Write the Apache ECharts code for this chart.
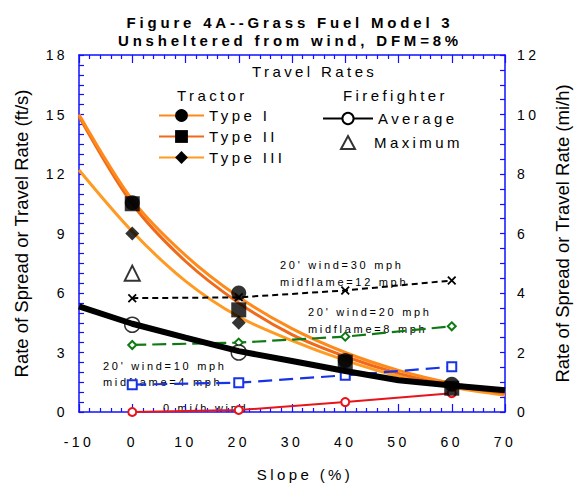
<!DOCTYPE html>
<html>
<head>
<meta charset="utf-8">
<script src="https://cdn.jsdelivr.net/npm/echarts@6/dist/echarts.min.js"></script>
<style>
  html, body { margin: 0; padding: 0; background: #fff; }
  #chart { width: 580px; height: 487px; }
  /* character tracking, keyed on a marker name in the font-family list */
  #chart text[style*="track-title"] { letter-spacing: 3.8px; }
  #chart text[style*="track-wide"]  { letter-spacing: 3.4px; }
  #chart text[style*="track-note"]  { letter-spacing: 2.7px; }
</style>
</head>
<body>
<div id="chart"></div>
<script>
// ---- data (rate in ft/s vs slope in %) ----
const slopeGrid   = [-10, 0, 10, 20, 30, 40, 50, 60, 70];
const typeICurve  = [15.0, 10.7, 7.9, 5.8, 4.2, 3.0, 2.1, 1.45, 1.0];
const typeIICurve = [14.9, 10.5, 7.6, 5.5, 3.9, 2.8, 1.95, 1.35, 0.95];
const typeIIICurve= [12.2, 9.1, 6.6, 4.8, 3.6, 2.6, 1.8, 1.25, 0.85];
const averageLine = [5.33, 4.45, 3.75, 3.07, 2.57, 2.07, 1.6, 1.34, 1.1];

const pointSlopes = [0, 20, 40, 60];
const typeIPts    = [10.55, 6.0, 2.6, 1.4];
const typeIIPts   = [10.5, 5.15, 2.52, 1.2];
const typeIIIPts  = [9.0, 4.5];
const averagePts  = [4.4, 3.0];
const maximumPts  = [7.0];

const wind0mph  = [0.0, 0.1, 0.5, 0.95];
const wind10mph = [1.38, 1.48, 1.85, 2.28];
const wind20mph = [3.38, 3.5, 3.8, 4.32];
const wind30mph = [5.74, 5.78, 6.13, 6.63];

const leftTicks  = { min: 0, max: 18, step: 3 };
const rightTicks = { min: 0, max: 12, step: 2 };
const slopeTicks = { min: -10, max: 70, step: 10 };

// ---- helpers ----
const pairs = (xs, ys) => ys.map((y, i) => [xs[i], y]);
const FONT_NAME  = '"Liberation Sans", Arial, sans-serif';
const FONT_TITLE = '"Liberation Sans", track-title, Arial, sans-serif';
const FONT_WIDE  = '"Liberation Sans", track-wide, Arial, sans-serif';
const FONT_NOTE  = '"Liberation Sans", track-note, Arial, sans-serif';
const AXIS_BLUE = '#1010ff';
const X_MARK = 'path://M0,1.4L1.4,0L5,3.6L8.6,0L10,1.4L6.4,5L10,8.6L8.6,10L5,6.4L1.4,10L0,8.6L3.6,5Z';

const chart = echarts.init(document.getElementById('chart'), null, { renderer: 'svg' });

const xAxisBase = {
  type: 'value',
  min: slopeTicks.min, max: slopeTicks.max, interval: slopeTicks.step,
  axisLine: { show: true, onZero: false, lineStyle: { color: AXIS_BLUE, width: 1.5 } },
  axisTick: { show: true, inside: true, length: 8, lineStyle: { color: AXIS_BLUE, width: 1.2 } },
  minorTick: { show: true, splitNumber: 5, length: 4, lineStyle: { color: AXIS_BLUE, width: 1.2 } },
  splitLine: { show: false }
};

const yAxisBase = {
  type: 'value',
  nameLocation: 'middle', nameRotate: 90, nameGap: 48,
  nameTextStyle: { fontSize: 18.5, color: '#000', fontFamily: FONT_NAME },
  axisLine: { show: true, onZero: false, lineStyle: { color: AXIS_BLUE, width: 1.5 } },
  axisTick: { show: true, inside: true, length: 5, lineStyle: { color: AXIS_BLUE, width: 1.2 } },
  splitLine: { show: false }
};

const legendText = { fontSize: 15, color: '#000', fontFamily: FONT_WIDE };

const noteText = (x, y, text) => ({
  type: 'text', left: x, top: y - 7,
  style: { text, fontSize: 11, fontFamily: FONT_NOTE, fill: '#000' }
});

const option = {
  animation: false,
  backgroundColor: '#fff',
  title: {
    text: 'Figure 4A--Grass Fuel Model 3\nUnsheltered from wind, DFM=8%',
    left: 'center', top: 9,
    textStyle: { fontSize: 15, fontWeight: 'bold', lineHeight: 17.5, color: '#000', fontFamily: FONT_TITLE }
  },
  grid: { left: 79, right: 69, top: 55, bottom: 68 },
  xAxis: [
    Object.assign({}, xAxisBase, {
      position: 'bottom',
      name: 'Slope (%)', nameLocation: 'middle', nameGap: 55,
      nameTextStyle: { fontSize: 15, color: '#000', fontFamily: FONT_WIDE, padding: [0, 0, 0, 26] },
      axisLabel: { fontSize: 14, color: '#000', margin: 23, fontFamily: FONT_WIDE }
    }),
    Object.assign({}, xAxisBase, { position: 'top', axisLabel: { show: false } })
  ],
  yAxis: [
    Object.assign({}, yAxisBase, {
      position: 'left',
      min: leftTicks.min, max: leftTicks.max, interval: leftTicks.step,
      name: 'Rate of Spread or Travel Rate (ft/s)',
      minorTick: { show: true, splitNumber: 6, length: 5, lineStyle: { color: AXIS_BLUE, width: 1.2 } },
      axisLabel: { fontSize: 14, color: '#000', margin: 11, fontFamily: FONT_WIDE }
    }),
    Object.assign({}, yAxisBase, {
      position: 'right',
      min: rightTicks.min, max: rightTicks.max, interval: rightTicks.step,
      name: 'Rate of Spread or Travel Rate (mi/h)',
      minorTick: { show: true, splitNumber: 4, length: 5, lineStyle: { color: AXIS_BLUE, width: 1.2 } },
      axisLabel: { fontSize: 14, color: '#000', margin: 12, fontFamily: FONT_WIDE }
    })
  ],
  legend: [
    {
      orient: 'vertical', left: 158, top: 108, padding: 0,
      itemWidth: 45, itemHeight: 16, itemGap: 6, selectedMode: false,
      textStyle: legendText,
      data: [
        { name: 'Type I', itemStyle: { color: '#000' } },
        { name: 'Type II', itemStyle: { color: '#000' } },
        { name: 'Type III', itemStyle: { color: '#000' } }
      ]
    },
    {
      orient: 'vertical', left: 322, top: 111, padding: 0,
      itemWidth: 50, itemHeight: 14, selectedMode: false,
      textStyle: legendText,
      data: [{ name: 'Average', itemStyle: { color: '#000' } }]
    },
    {
      orient: 'vertical', left: 340, top: 135, padding: 0,
      itemWidth: 14, itemHeight: 13, selectedMode: false,
      textStyle: Object.assign({}, legendText, { padding: [0, 0, 0, 14] }),
      data: [{ name: 'Maximum', itemStyle: { color: '#000' } }]
    }
  ],
  graphic: [
    { type: 'text', left: 252, top: 64, style: { text: 'Travel Rates', fontSize: 15, fontFamily: FONT_WIDE, fill: '#000' } },
    { type: 'text', left: 177, top: 88, style: { text: 'Tractor', fontSize: 15, fontFamily: FONT_WIDE, fill: '#000' } },
    { type: 'text', left: 343, top: 88, style: { text: 'Firefighter', fontSize: 15, fontFamily: FONT_WIDE, fill: '#000' } },
    noteText(280, 266, "20' wind=30 mph"),
    noteText(280, 283, 'midflame=12 mph'),
    noteText(308, 313, "20' wind=20 mph"),
    noteText(308, 330, 'midflame=8 mph'),
    noteText(103, 367, "20' wind=10 mph"),
    noteText(103, 383, 'midflame=4 mph'),
    noteText(163, 409, '0 mi/h wind')
  ],
  series: [
    // wind-driven rate of spread
    {
      name: '0 mi/h wind', type: 'line', data: pairs(pointSlopes, wind0mph), z: 3,
      symbol: 'emptyCircle', symbolSize: 8,
      lineStyle: { color: '#e8141c', width: 2 }, itemStyle: { color: '#e8141c', borderWidth: 1.5 }
    },
    {
      name: '10 mph wind', type: 'line', data: pairs(pointSlopes, wind10mph), z: 4,
      symbol: 'emptyRect', symbolSize: 9,
      lineStyle: { color: '#1633e6', width: 2.2, type: [14, 7] }, itemStyle: { color: '#1633e6', borderWidth: 1.5 }
    },
    {
      name: '20 mph wind', type: 'line', data: pairs(pointSlopes, wind20mph), z: 3,
      symbol: 'emptyDiamond', symbolSize: 8,
      lineStyle: { color: '#0f7a14', width: 2.2, type: [14, 6] }, itemStyle: { color: '#0f7a14', borderWidth: 1.5 }
    },
    {
      name: '30 mph wind', type: 'line', data: pairs(pointSlopes, wind30mph), z: 3,
      symbol: X_MARK, symbolSize: 9,
      lineStyle: { color: '#000', width: 2, type: [6, 4] }, itemStyle: { color: '#000' }
    },
    // tractor travel-rate curves
    {
      name: 'Type III', type: 'line', data: pairs(slopeGrid, typeIIICurve), smooth: 0.3, z: 2,
      symbol: 'diamond', showSymbol: false,
      lineStyle: { color: '#ff9a22', width: 3 }, itemStyle: { color: '#000' }
    },
    {
      name: 'Type II', type: 'line', data: pairs(slopeGrid, typeIICurve), smooth: 0.3, z: 2,
      symbol: 'rect', showSymbol: false,
      lineStyle: { color: '#ef6a1a', width: 3 }, itemStyle: { color: '#000' }
    },
    {
      name: 'Type I', type: 'line', data: pairs(slopeGrid, typeICurve), smooth: 0.3, z: 2,
      symbol: 'circle', showSymbol: false,
      lineStyle: { color: '#ff8a1c', width: 3 }, itemStyle: { color: '#000' }
    },
    // firefighter average travel rate
    {
      name: 'Average', type: 'line', data: pairs(slopeGrid, averageLine), z: 5,
      symbol: 'emptyCircle', showSymbol: false,
      lineStyle: { color: '#000', width: 6 }, itemStyle: { color: '#000' }
    },
    {
      name: 'Average points', type: 'scatter', data: pairs(pointSlopes, averagePts), z: 4,
      symbol: 'circle', symbolSize: 15,
      itemStyle: { color: '#fff', borderColor: '#000', borderWidth: 1.5 }
    },
    {
      name: 'Maximum', type: 'scatter', data: pairs(pointSlopes, maximumPts), z: 6,
      symbol: 'emptyTriangle', symbolSize: 15,
      itemStyle: { color: '#000', borderWidth: 1.5 }
    },
    // tractor observed points
    {
      name: 'Type I points', type: 'scatter', data: pairs(pointSlopes, typeIPts), z: 6,
      symbol: 'circle', symbolSize: 15, itemStyle: { color: '#000' }
    },
    {
      name: 'Type II points', type: 'scatter', data: pairs(pointSlopes, typeIIPts), z: 7,
      symbol: 'rect', symbolSize: 15, itemStyle: { color: '#000' }
    },
    {
      name: 'Type III points', type: 'scatter', data: pairs(pointSlopes, typeIIIPts), z: 7,
      symbol: 'diamond', symbolSize: 14, itemStyle: { color: '#000' }
    }
  ]
};

chart.setOption(option);
</script>
</body>
</html>
